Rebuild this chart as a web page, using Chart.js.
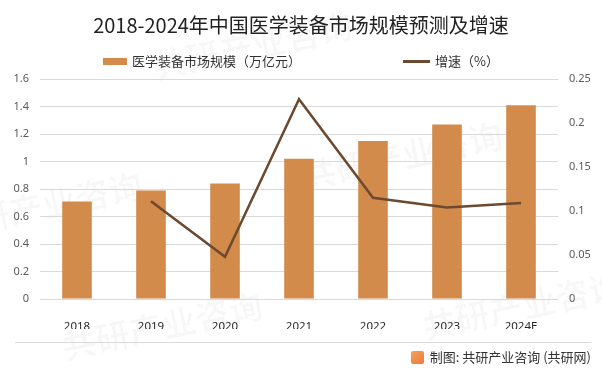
<!DOCTYPE html>
<html lang="zh-CN">
<head>
<meta charset="UTF-8">
<script src="https://cdn.jsdelivr.net/npm/chart.js"></script>
<title>2018-2024年中国医学装备市场规模预测及增速</title>
<style>
    body { margin: 0; background: #fff; font-family: "Noto Sans CJK SC", "Noto Sans", sans-serif; }
    #box { position: relative; width: 602px; height: 375px; overflow: hidden; }
    #titulo { position: absolute; left: 0; width: 602px; top: 11px; text-align: center; font-size: 20px; color: #222; line-height: 28px; }
    .leg { position: absolute; top: 53px; font-size: 13px; color: #333; line-height: 16px; white-space: nowrap; }
    .leg i { display: inline-block; vertical-align: middle; margin-right: 5px; position: relative; top: -1px; }
    #linha { position: absolute; left: 15px; width: 576px; top: 342px; height: 1px; background: #d9d9d9; }
    #fonte { position: absolute; right: 11px; top: 349px; font-size: 13px; color: #333; line-height: 16px; }
    #logo { display: inline-block; width: 13px; height: 13px; border-radius: 2px; background: linear-gradient(135deg, #f3a25a, #ee7a3a); vertical-align: middle; margin-right: 6px; position: relative; top: -1px; }
    .marca { position: absolute; color: rgba(0,0,0,0.03); font-size: 34px; font-weight: bold; transform: rotate(-12deg); white-space: nowrap; pointer-events: none; }
    canvas { position: absolute; left: 0; top: 0; }
</style>
</head>
<body>
<div id="box">
    <div class="marca" style="left:150px;top:20px">共研产业咨询</div>
    <div class="marca" style="left:-60px;top:180px">共研产业咨询</div>
    <div class="marca" style="left:300px;top:130px">共研产业咨询</div>
    <div class="marca" style="left:420px;top:280px">共研产业咨询</div>
    <div class="marca" style="left:60px;top:300px">共研产业咨询</div>
    <canvas id="grafico" width="602" height="375"></canvas>
    <div id="titulo">2018-2024年中国医学装备市场规模预测及增速</div>
    <div class="leg" id="leg1"></div>
    <div class="leg" id="leg2"></div>
    <div id="linha"></div>
    <div id="fonte"><span id="logo"></span>制图: 共研产业咨询 (共研网)</div>
</div>
<script>
    const anos = ['2018', '2019', '2020', '2021', '2022', '2023', '2024E'];
    const mercado = [0.71, 0.79, 0.84, 1.02, 1.15, 1.27, 1.41];
    const crescimento = [null, 0.111, 0.048, 0.227, 0.115, 0.104, 0.109];
    const ticksEsq = [0, 0.2, 0.4, 0.6, 0.8, 1, 1.2, 1.4, 1.6];
    const ticksDir = [0, 0.05, 0.1, 0.15, 0.2, 0.25];

    const corBarra = '#D38B4C';
    const corLinha = '#6B4A2F';

    // legenda em html
    leg1.style.left = '103px';
    leg1.innerHTML = `<i style="width:24px;height:7px;background:${corBarra}"></i>医学装备市场规模（万亿元）`;
    leg2.style.left = '403px';
    leg2.innerHTML = `<i style="width:27px;height:3px;background:${corLinha}"></i>增速（%）`;

    const fonteTicks = { family: '"Noto Sans", "Noto Sans CJK SC", sans-serif', size: 11 };

    new Chart(document.getElementById('grafico'), {
        data: {
            labels: anos,
            datasets: [
                {
                    type: 'line',
                    label: '增速（%）',
                    data: crescimento,
                    yAxisID: 'yDir',
                    borderColor: corLinha,
                    borderWidth: 2.5,
                    pointRadius: 0,
                    tension: 0,
                    spanGaps: true,
                    order: 0
                },
                {
                    type: 'bar',
                    label: '医学装备市场规模（万亿元）',
                    data: mercado,
                    yAxisID: 'yEsq',
                    backgroundColor: corBarra,
                    barPercentage: 0.4,
                    categoryPercentage: 1,
                    order: 1
                }
            ]
        },
        options: {
            responsive: false,
            animation: false,
            layout: { padding: { top: 79, bottom: 46, left: 0, right: 0 } },
            plugins: { legend: { display: false }, tooltip: { enabled: false } },
            scales: {
                x: {
                    grid: { display: false },
                    border: { display: false },
                    ticks: { color: '#262626', font: { family: fonteTicks.family, size: 11.5 }, padding: 13 },
                    afterFit: function (s) { s.height = 30; }
                },
                yEsq: {
                    position: 'left',
                    min: 0, max: 1.6,
                    afterBuildTicks: function (s) { s.ticks = ticksEsq.map(v => ({ value: v })); },
                    grid: { color: '#d9d9d9', drawTicks: false },
                    border: { display: false },
                    ticks: { color: '#595959', font: fonteTicks, padding: 11, callback: v => String(v) },
                    afterFit: function (s) { s.width = 40; }
                },
                yDir: {
                    position: 'right',
                    min: 0, max: 0.25,
                    afterBuildTicks: function (s) { s.ticks = ticksDir.map(v => ({ value: v })); },
                    grid: { drawOnChartArea: false, drawTicks: false },
                    border: { display: false },
                    ticks: { color: '#595959', font: fonteTicks, padding: 11, callback: v => String(v) },
                    afterFit: function (s) { s.width = 44; }
                }
            }
        }
    });
</script>
</body>
</html>
